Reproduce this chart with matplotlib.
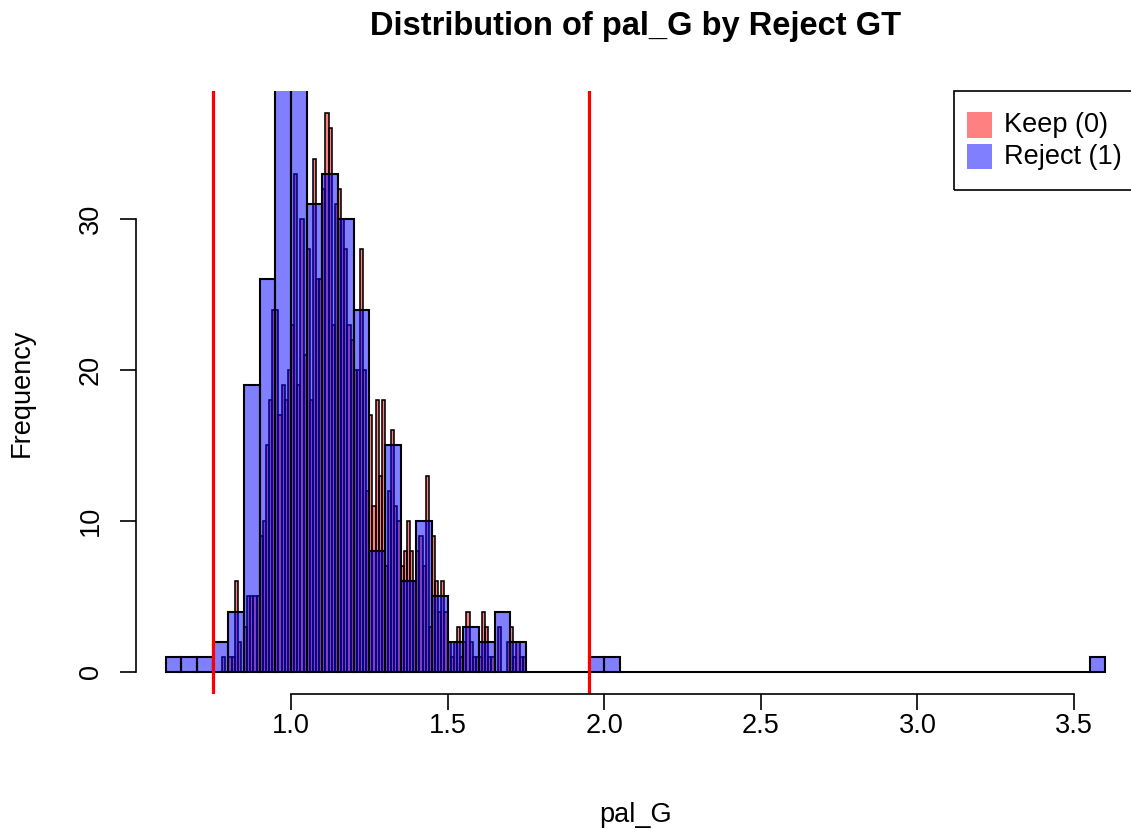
import numpy as np
import matplotlib
matplotlib.use("Agg")
import matplotlib.pyplot as plt
from matplotlib.patches import Rectangle

plt.rcParams['font.family'] = ['Liberation Sans', 'DejaVu Sans']

# ---- data -------------------------------------------------------------
# Keep (0): histogram with 0.01-wide bins starting at 0.78
keep_start = 0.78
keep_width = 0.01
keep_counts = [
    1, 0, 1, 1, 6, 2, 0, 3, 5, 5, 5, 5,            # 0.78 - 0.89
    9, 10, 15, 18, 24, 24, 17, 19, 18, 20,         # 0.90 - 0.99
    23, 33, 19, 30, 21, 28, 18, 34, 26, 26,        # 1.00 - 1.09
    32, 37, 36, 23, 31, 32, 30, 28, 23, 22,        # 1.10 - 1.19
    20, 20, 28, 20, 12, 17, 11, 18, 13, 18,        # 1.20 - 1.29
    7, 12, 16, 11, 10, 7, 8, 10, 8, 6,             # 1.30 - 1.39
    8, 9, 7, 13, 3, 9, 6, 4, 6, 4,                 # 1.40 - 1.49
    2, 1, 2, 3, 1, 2, 4, 2, 1, 1,                  # 1.50 - 1.59
    1, 4, 3, 1, 1, 0, 3, 0, 0, 2,                  # 1.60 - 1.69
    3, 1, 2, 1, 1,                                 # 1.70 - 1.74
]

# Reject (1): histogram with 0.05-wide bins starting at 0.60
reject_start = 0.60
reject_width = 0.05
reject_counts = [
    1, 1, 1, 2, 4, 19, 26, 41, 44, 31,             # 0.60 - 1.05
    33, 30, 24, 8, 15, 6, 10, 5, 2, 3,             # 1.10 - 1.55
    2, 4, 2, 0, 0, 0, 0, 1, 1, 0,                  # 1.60 - 2.05
    0, 0, 0, 0, 0, 0, 0, 0, 0, 0,                  # 2.10 - 2.55
    0, 0, 0, 0, 0, 0, 0, 0, 0, 0,                  # 2.60 - 3.05
    0, 0, 0, 0, 0, 0, 0, 0, 0, 1,                  # 3.10 - 3.55
]

thresholds = [0.75, 1.95]
x_ticks = [1.0, 1.5, 2.0, 2.5, 3.0, 3.5]
y_ticks = [0, 10, 20, 30]
legend_labels = ["Keep (0)", "Reject (1)"]

# ---- figure -------------------------------------------------------------
W, H = 1131, 830
FS = 19.5
fig = plt.figure(figsize=(W / 100, H / 100), dpi=100)


def px_box(x0, y0, x1, y1):
    """Figure-fraction rectangle from pixel corners (top-left origin)."""
    return [x0 / W, 1 - y1 / H, (x1 - x0) / W, (y1 - y0) / H]


ax = fig.add_axes(px_box(136, 91, 1135, 694.3))

keep_left = keep_start + keep_width * np.arange(len(keep_counts))
reject_left = reject_start + reject_width * np.arange(len(reject_counts))

ax.bar(keep_left, keep_counts, width=keep_width, align='edge',
       color=(1, 0, 0, 0.5), edgecolor='black', linewidth=1.15)
ax.bar(reject_left, reject_counts, width=reject_width, align='edge',
       color=(0, 0, 1, 0.5), edgecolor='black', linewidth=1.5)

for t in thresholds:
    ax.axvline(t, color='red', linewidth=2.3)

ax.set_xlim(0.505, 3.695)
ax.set_ylim(-1.48, 38.48)

# R-style axes: detached lines spanning only the tick range
for side in ('top', 'right'):
    ax.spines[side].set_visible(False)
ax.spines['left'].set_bounds(y_ticks[0], y_ticks[-1])
ax.spines['bottom'].set_bounds(x_ticks[0], x_ticks[-1])
for side in ('left', 'bottom'):
    ax.spines[side].set_linewidth(1.2)

ax.set_xticks(x_ticks)
ax.set_xticklabels([f"{v:.1f}" for v in x_ticks])
ax.set_yticks(y_ticks)
ax.set_yticklabels([str(v) for v in y_ticks], rotation=90, va='center')
ax.tick_params(direction='out', length=11.5, width=1.2, labelsize=FS)
ax.tick_params(axis='x', pad=2)
ax.tick_params(axis='y', pad=11.5)

ax.set_xlabel("pal_G", fontsize=FS)
ax.xaxis.set_label_coords(0.5, (694.3 - 815) / 603.3)
ax.xaxis.label.set_va('center')
ax.set_ylabel("Frequency", fontsize=FS)
ax.yaxis.set_label_coords((22 - 136) / 999, 0.5)
ax.yaxis.label.set_va('center')

fig.text(636 / W, 1 - 27 / H, "Distribution of pal_G by Reject GT",
         ha='center', va='center', fontsize=23.5, fontweight='bold')

# legend box in the top-right corner of the plot region
fig.patches.append(Rectangle(px_box(954, 91, 1135, 190)[:2],
                             182 / W, 99 / H, transform=fig.transFigure,
                             fill=False, edgecolor='black', linewidth=1.2))
legend_colors = ['#FF8080', '#8080FF']
for i, (lab, col) in enumerate(zip(legend_labels, legend_colors)):
    yc = 125 + 32 * i
    b = px_box(967, yc - 12.5, 992, yc + 12.5)
    fig.patches.append(Rectangle(b[:2], b[2], b[3], transform=fig.transFigure,
                                 facecolor=col, edgecolor='none'))
    fig.text(1004 / W, 1 - yc / H, lab, ha='left', va='center', fontsize=FS)

fig.savefig("out.png", dpi=100)
